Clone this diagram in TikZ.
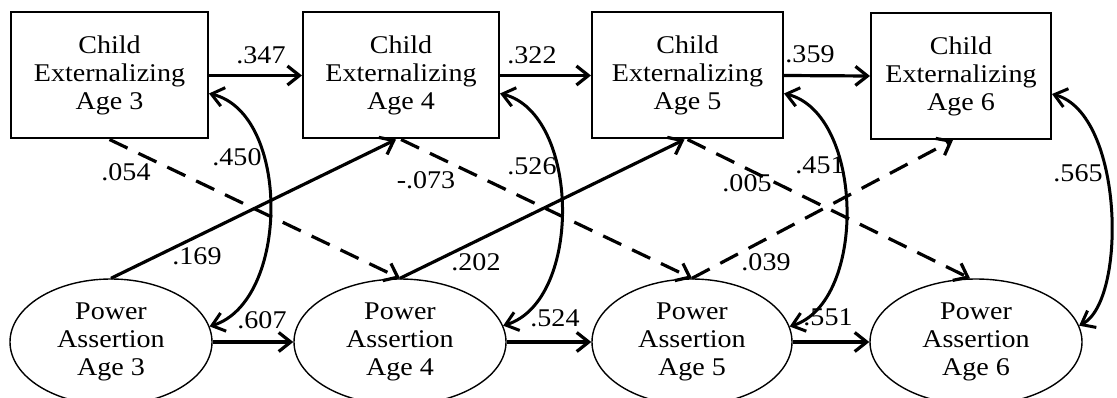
\documentclass[tikz,border=0pt]{standalone}
\usepackage{fontspec}
\setmainfont{Liberation Serif}[FakeStretch=1.1]
\usetikzlibrary{arrows.meta,shapes.geometric,calc}

\begin{document}
\begin{tikzpicture}[x=1pt,y=-1pt,
  font=\fontsize{25.5}{28}\selectfont,
  obsbox/.style={draw,line width=2pt,rectangle,minimum height=126pt,inner sep=0pt,align=center},
  latent/.style={draw,line width=1.4pt,ellipse,minimum height=126pt,inner sep=0pt,align=center},
  regpath/.style={line width=3.2pt,-{Straight Barb[length=12pt,width=19pt]}},
  dashpath/.style={regpath,dash pattern=on 20pt off 12pt},
  covpath/.style={line width=3pt,{Straight Barb[length=12pt,width=19pt]}-{Straight Barb[length=12pt,width=19pt]}},
  coef/.style={inner sep=0pt}]

  \fill[white] (0,0) rectangle (1117,398);
  \useasboundingbox (0,0) rectangle (1117,398);

  % observed child externalizing scores
  \node[obsbox,minimum width=197pt] (b1) at (109.5,75.5) {Child\\Externalizing\\Age 3};
  \node[obsbox,minimum width=196pt] (b2) at (401,75.5) {Child\\Externalizing\\Age 4};
  \node[obsbox,minimum width=191pt] (b3) at (687.5,75.5) {Child\\Externalizing\\Age 5};
  \node[obsbox,minimum width=180pt] (b4) at (961,76) {Child\\Externalizing\\Age 6};

  % latent power assertion factors
  \node[latent,minimum width=202pt] (e1) at (111,342) {Power\\Assertion\\Age 3};
  \node[latent,minimum width=212pt] (e2) at (400,342) {Power\\Assertion\\Age 4};
  \node[latent,minimum width=200pt] (e3) at (692,342) {Power\\Assertion\\Age 5};
  \node[latent,minimum width=212pt] (e4) at (976,342) {Power\\Assertion\\Age 6};

  % stability paths
  \draw[regpath] (b1.east) -- (b2.west);
  \draw[regpath] (b2.east) -- (b3.west);
  \draw[regpath] (b3.east) -- (b4.west);
  \draw[regpath] (e1.east) -- (e2.west);
  \draw[regpath] (e2.east) -- (e3.west);
  \draw[regpath] (e3.east) -- (e4.west);

  % cross-lagged paths
  \draw[regpath] (e1.north) -- ($(b2.south)+(-5,0)$);
  \draw[regpath] (e2.north) -- ($(b3.south)+(-3,0)$);
  \draw[dashpath] (b1.south) -- (e2.north);
  \draw[dashpath] (b2.south) -- (e3.north);
  \draw[dashpath] (b3.south) -- ($(e4.north)+(-6,0)$);
  \draw[dashpath] (e3.north) -- ($(b4.south)+(-8,0)$);

  % within-time covariances
  \draw[covpath] ($(b1.east)+(0,18)$) .. controls +(82,20) and +(80,-25) .. (e1.9);
  \draw[covpath] ($(b2.east)+(0,18)$) .. controls +(80,20) and +(80,-25) .. (e2.9);
  \draw[covpath] ($(b3.east)+(0,18)$) .. controls +(80,20) and +(78,-25) .. (e3.9);
  \draw[covpath] ($(b4.east)+(0,18)$) .. controls +(72,20) and +(48,-25) .. (e4.9);

  % coefficients
  \node[coef] (c1) at (261,55) {.347};
  \node[coef] (c2) at (532,55) {.322};
  \node[coef] (c3) at (810,54) {.359};
  \node[coef] (c4) at (262,320) {.607};
  \node[coef] (c5) at (555,318) {.524};
  \node[coef] (c6) at (828,317) {.551};
  \node[coef] (c7) at (237,157) {.450};
  \node[coef] (c8) at (532,166) {.526};
  \node[coef] (c9) at (820,165) {.451};
  \node[coef] (c10) at (1078,173) {.565};
  \node[coef] (c11) at (126,172) {.054};
  \node[coef] (c12) at (426,180) {-.073};
  \node[coef] (c13) at (747,183) {.005};
  \node[coef] (c14) at (197,256) {.169};
  \node[coef] (c15) at (476,262) {.202};
  \node[coef] (c16) at (766,262) {.039};
\end{tikzpicture}
\end{document}
